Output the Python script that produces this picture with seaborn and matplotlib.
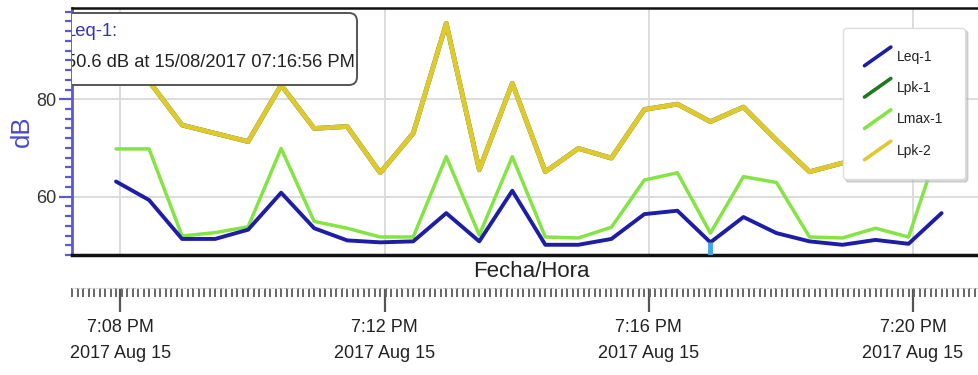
import numpy as np
import pandas as pd
import matplotlib
matplotlib.use("Agg")
import matplotlib.pyplot as plt
import matplotlib.dates as mdates
from matplotlib.ticker import FixedLocator, FixedFormatter, MultipleLocator
from matplotlib.legend_handler import HandlerLine2D
from matplotlib.lines import Line2D
from matplotlib.patches import FancyBboxPatch
import seaborn as sns

# ---------------- data ----------------
day = "2017-08-15"
times = ["19:07:56", "19:08:26", "19:08:56", "19:09:26", "19:09:56", "19:10:26",
         "19:10:56", "19:11:26", "19:11:56", "19:12:26", "19:12:56", "19:13:26",
         "19:13:56", "19:14:26", "19:14:56", "19:15:26", "19:15:56", "19:16:26",
         "19:16:56", "19:17:26", "19:17:56", "19:18:26", "19:18:56", "19:19:26",
         "19:19:56", "19:20:26"]
leq1 = [63.1, 59.3, 51.3, 51.3, 53.2, 60.8, 53.5, 51.0, 50.6, 50.8, 56.6, 50.8, 61.2,
        50.1, 50.1, 51.3, 56.4, 57.1, 50.6, 55.8, 52.5, 50.8, 50.1, 51.1, 50.3, 56.6]
lmax1 = [69.8, 69.8, 51.9, 52.6, 53.8, 69.9, 54.9, 53.5, 51.7, 51.7, 68.2, 52.1, 68.2,
         51.7, 51.5, 53.7, 63.4, 64.9, 52.5, 64.1, 62.9, 51.7, 51.5, 53.5, 51.7, 72.0]
lpk2 = [86.0, 83.7, 74.7, 73.0, 71.3, 82.9, 74.0, 74.4, 64.9, 73.0, 95.6, 65.5, 83.3,
        65.1, 69.9, 67.9, 77.9, 79.0, 75.4, 78.4, 71.6, 65.1, 66.9, 68.0, 70.0, 82.0]
lpk1 = [86.0, 83.7, 74.7, 73.0, 71.3, 82.9, 74.0, 74.4, 64.9, 73.0, 95.6, 65.5, 83.3,
        65.1, 69.9, 67.9, 77.9, 79.0, 75.4, 78.4, 71.6, 65.1, 66.9, 68.0, 70.0, 82.0]

series_names = ["Leq-1", "Lpk-1", "Lmax-1", "Lpk-2"]
series_values = {"Leq-1": leq1, "Lpk-1": lpk1, "Lmax-1": lmax1, "Lpk-2": lpk2}
colors = {"Leq-1": "#1d1da6", "Lpk-1": "#1f7a1f", "Lmax-1": "#84e443", "Lpk-2": "#e0c92f"}

major_times = ["19:08:00", "19:12:00", "19:16:00", "19:20:00"]
tick_labels = ["7:08 PM\n2017 Aug 15", "7:12 PM\n2017 Aug 15",
               "7:16 PM\n2017 Aug 15", "7:20 PM\n2017 Aug 15"]
x_range = ["19:07:16", "19:21:00"]
y_range = [48.0, 98.75]
y_major = [60, 80]

tooltip_series = "Leq-1:"
tooltip_time = "19:16:56"
tooltip_value = 50.6
tooltip_text = "50.6 dB at 15/08/2017 07:16:56 PM"

# ---------------- style ----------------
sns.set_style("white")
FONT = ["Liberation Sans", "DejaVu Sans"]
plt.rcParams["font.family"] = FONT

ts = pd.to_datetime([f"{day} {t}" for t in times])
long = pd.concat([pd.DataFrame({"time": ts, "dB": series_values[n], "series": n})
                  for n in series_names], ignore_index=True)

W, H = 979, 375
fig = plt.figure(figsize=(W / 100, H / 100), dpi=100)
ax_l, ax_r, ax_t, ax_b = 72, 979, 8, 255
ax = fig.add_axes([ax_l / W, 1 - ax_b / H, (ax_r - ax_l) / W, (ax_b - ax_t) / H])

draw = [("Lpk-1", 3.4, 2), ("Lpk-2", 3.4, 3), ("Lmax-1", 2.5, 4), ("Leq-1", 2.8, 5)]
for name, lw, z in draw:
    sns.lineplot(data=long[long.series == name], x="time", y="dB", color=colors[name],
                 lw=lw, ax=ax, legend=False, zorder=z)

# tooltip marker
tt = pd.Timestamp(f"{day} {tooltip_time}")
ax.plot([tt, tt], [tooltip_value, y_range[0]], color="#3ea6ef", lw=3.5,
        solid_capstyle="butt", zorder=6)

ax.set_xlim(pd.Timestamp(f"{day} {x_range[0]}"), pd.Timestamp(f"{day} {x_range[1]}"))
ax.set_ylim(*y_range)

major_nums = mdates.date2num(pd.to_datetime([f"{day} {t}" for t in major_times]))
ax.xaxis.set_major_locator(FixedLocator(major_nums))
ax.tick_params(axis="x", which="both", length=0, labelbottom=False)
ax.set_yticks(y_major)
ax.yaxis.set_minor_locator(MultipleLocator(2))
ax.grid(True, which="major", color="#dcdcdc", lw=1.4, zorder=0)
ax.set_axisbelow(True)

tick_blue = "#5a5ad2"
ax.tick_params(axis="y", which="major", length=9.5, width=1.6, color=tick_blue,
               labelsize=13, labelcolor="#333333", pad=2, left=True)
ax.tick_params(axis="y", which="minor", length=5, width=1.6, color=tick_blue, left=True)
ax.spines["left"].set_color(tick_blue)
ax.spines["left"].set_linewidth(2)
ax.spines["top"].set_color("#111111")
ax.spines["top"].set_linewidth(1.8)
ax.spines["bottom"].set_color("#111111")
ax.spines["bottom"].set_linewidth(2.5)
ax.spines["right"].set_visible(False)

ax.set_ylabel("dB", color="#4848cc", fontsize=18.5)
ax.yaxis.set_label_coords((34 - ax_l) / (ax_r - ax_l), 0.5)
ax.set_xlabel("Fecha/Hora", fontsize=16, color="#222222")
ax.xaxis.set_label_coords((531 - ax_l) / (ax_r - ax_l), (ax_b - 261) / (ax_b - ax_t))

# secondary time axis (tick strip)
sec = ax.secondary_xaxis((ax_b - 288) / (ax_b - ax_t))
minor_nums = mdates.date2num(pd.date_range(f"{day} {x_range[0]}", f"{day} {x_range[1]}", freq="5s"))
sec.xaxis.set_major_locator(FixedLocator(major_nums))
sec.xaxis.set_major_formatter(FixedFormatter(tick_labels))
sec.xaxis.set_minor_locator(FixedLocator(minor_nums))
sec.tick_params(which="major", length=17, width=1.6, color="#555555", pad=5,
                labelsize=13, labelcolor="#222222")
sec.tick_params(which="minor", length=6.5, width=1.4, color="#666666")
sec.spines["bottom"].set_color("#cccccc")
sec.spines["bottom"].set_linestyle(":")
for lbl in sec.get_xticklabels():
    lbl.set_linespacing(1.75)

# tooltip box
asp = (ax_r - ax_l) / (ax_b - ax_t)
bx0, bx1, by0, by1 = 55, 357, 13, 85
box = FancyBboxPatch(((bx0 - ax_l) / (ax_r - ax_l), (ax_b - by1) / (ax_b - ax_t)),
                     (bx1 - bx0) / (ax_r - ax_l), (by1 - by0) / (ax_b - ax_t),
                     boxstyle="round,pad=0,rounding_size=0.009", mutation_aspect=asp,
                     transform=ax.transAxes, facecolor="white", edgecolor="#555555",
                     lw=1.4, zorder=10)
ax.add_patch(box)
tx = (66 - ax_l) / (ax_r - ax_l)
ax.text(tx, (ax_b - 31) / (ax_b - ax_t), tooltip_series, transform=ax.transAxes,
        fontsize=13.2, color="#3535b0", va="center", ha="left", zorder=11, clip_on=True)
ax.text(tx, (ax_b - 62) / (ax_b - ax_t), tooltip_text, transform=ax.transAxes,
        fontsize=13.2, color="#222222", va="center", ha="left", zorder=11, clip_on=True)


# legend with diagonal handles
class DiagHandler(HandlerLine2D):
    def create_artists(self, legend, orig_handle, xdescent, ydescent, width, height,
                       fontsize, trans):
        x0, x1 = -xdescent, -xdescent + width
        y0, y1 = -ydescent - 0.3 * height, -ydescent + 1.2 * height
        ln = Line2D([x0, x1], [y0, y1], color=orig_handle.get_color(),
                    lw=orig_handle.get_linewidth(), solid_capstyle="round",
                    transform=trans)
        return [ln]


handles = [Line2D([], [], color=colors[n], lw=2.6) for n in series_names]
leg = ax.legend(handles, series_names, loc="upper right",
                bbox_to_anchor=((965 - ax_l) / (ax_r - ax_l), (ax_b - 28) / (ax_b - ax_t)),
                handler_map={Line2D: DiagHandler()}, fancybox=True,
                shadow={"color": "#bbbbbb", "alpha": 0.6}, framealpha=1,
                edgecolor="#dddddd", fontsize=10, labelspacing=1.25, handlelength=1.9,
                handleheight=1.0, borderpad=1.55, handletextpad=0.45, borderaxespad=0)
leg.set_zorder(12)
for t in leg.get_texts():
    t.set_color("#222222")

fig.savefig("out.png", dpi=100)
